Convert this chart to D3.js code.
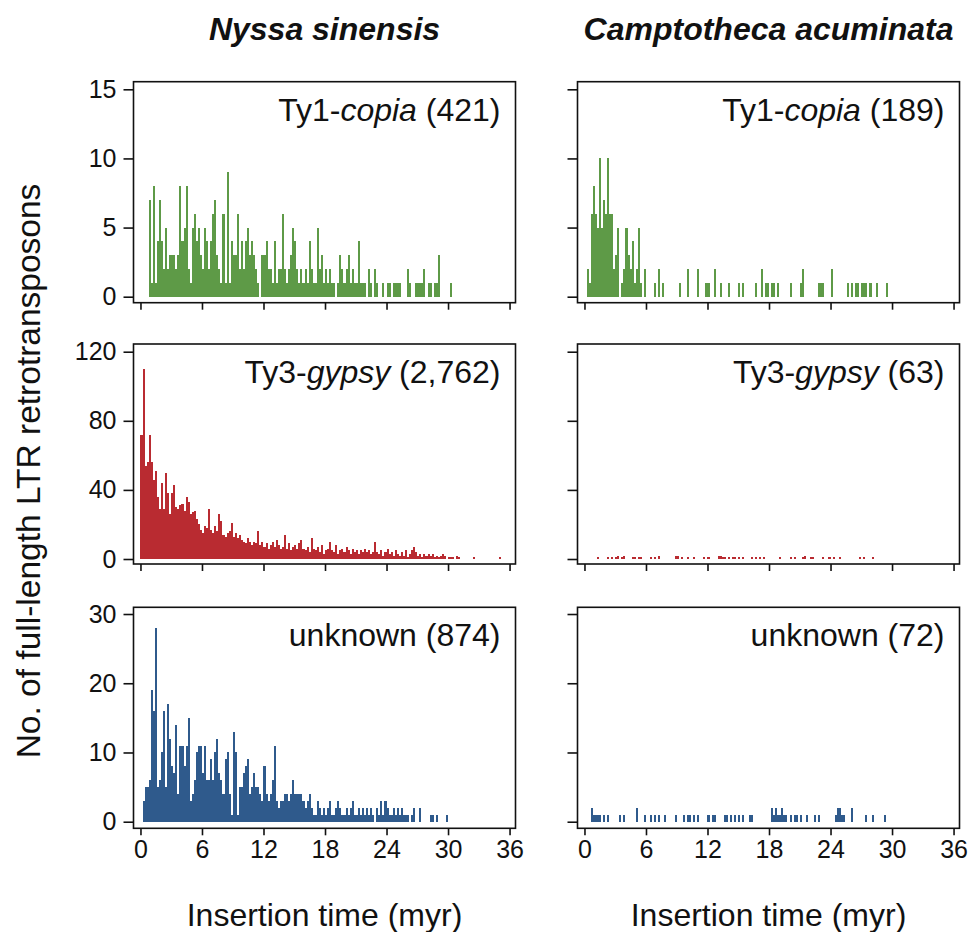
<!DOCTYPE html>
<html><head><meta charset="utf-8">
<script src="https://cdn.jsdelivr.net/npm/d3@7"></script>
<style>body{margin:0;background:#fff;} text{font-family:"Liberation Sans",Arial,Helvetica,sans-serif;fill:#111;}</style>
</head><body><svg id="c" width="970" height="932"></svg>
<script>
// ---------- data ----------
const BIN = 0.2; // myr per bin; arrays below are counts per bin starting at 0 myr
const speciesNames = ["Nyssa sinensis", "Camptotheca acuminata"];
const typePrefix = ["Ty1-", "Ty3-", "unknown"];
const typeItalic = ["copia", "gypsy", ""];
const totalsNyssa = ["421", "2,762", "874"];
const totalsCampto = ["189", "63", "72"];
const xTicks = [0, 6, 12, 18, 24, 30, 36];
const yTicksCopia = [0, 5, 10, 15];
const yTicksGypsy = [0, 40, 80, 120];
const yTicksUnknown = [0, 10, 20, 30];
const xTitle = "Insertion time (myr)";
const yTitle = "No. of full-length LTR retrotransposons";

const nyssaCopia = [0,0,0,0,7,1,8,1,4,7, 4,2,5,2,3,3,3,2,3,8, 4,5,8,2,1,5,6,4,5,3,
  2,5,4,2,4,6,7,3,2,1, 6,1,9,1,4,3,3,6,2,4, 2,4,5,3,4,3,2,1,0,3,
  3,4,2,2,1,4,1,2,2,6, 2,1,2,3,5,4,2,1,2,1, 2,1,4,2,1,1,5,2,3,1,
  2,1,2,1,1,0,1,3,2,1, 2,3,1,2,1,1,4,1,1,1, 0,2,1,0,2,1,0,0,1,0,
  1,1,0,1,1,1,1,0,0,0, 2,1,0,0,1,1,1,1,2,0, 1,1,0,1,1,3,0,0,0,0, 0,1];
const nyssaGypsy = [72,110,54,56,72,56,46,51,36,29, 44,29,50,38,26,38,43,30,29,31,
  32,28,36,33,26,27,28,23,20,17, 15,19,18,29,17,15,19,16,26,22,
  14,13,15,16,21,13,15,12,14,11, 10,9,12,10,8,10,9,16,8,10,
  7,9,6,8,10,7,11,8,6,7, 14,6,9,5,7,8,6,9,11,6, 5,7,4,12,6,5,7,4,8,3,
  5,6,10,5,4,8,3,5,6,4, 7,5,3,6,4,5,3,5,4,6, 4,5,3,4,10,4,3,5,2,4,
  6,3,4,2,5,3,2,4,2,5, 1,3,5,7,4,2,3,1,3,2, 3,2,3,1,2,1,2,3,2,0,
  1,1,1,0,2,1,0,0,0,0, 0,0,1,0,0,0,0,0,0,0, 0,0,0,0,0,1];
const nyssaUnknown = [0,3,5,5,6,19,16,28,5,6, 10,16,5,17,12,8,7,14,4,11,
  11,8,11,15,3,4,6,10,11,11, 7,11,6,6,9,6,10,12,7,6, 4,9,10,4,1,13,10,1,5,5,
  7,8,9,4,5,7,5,5,4,3, 8,4,3,4,6,11,3,2,3,3, 4,4,3,4,6,4,4,4,4,3,
  2,3,4,2,1,1,3,2,1,2, 1,2,3,1,1,2,3,2,1,1, 2,1,2,3,1,1,2,1,2,1,
  2,1,2,1,0,2,1,3,1,3, 2,1,1,2,1,2,1,2,1,1, 1,0,1,2,0,0,2,0,0,0,
  0,1,1,0,1,0,0,0,0,1];
const camptoCopia = [0,2,1,6,8,6,5,10,5,7, 6,10,6,6,2,3,5,0,1,2, 5,3,2,4,1,2,5,1,0,2,
  0,0,0,0,1,0,2,0,1,0, 0,0,0,0,0,0,1,0,0,0, 2,0,0,0,0,2,0,0,0,1,
  1,0,0,2,0,0,1,0,0,0, 1,0,0,0,0,1,0,1,0,0, 0,0,0,1,0,0,2,0,1,1,
  0,1,1,0,1,0,0,0,0,0, 1,0,0,0,0,1,2,0,0,0, 0,0,0,0,1,1,1,0,0,0,
  2,0,0,0,0,0,0,0,1,0, 1,0,1,1,0,1,1,1,0,1, 0,0,1,0,0,0,0,1];
const camptoGypsy = [0,0,0,0,0,0,1,0,0,0, 0,1,0,1,0,1,2,0,1,2, 0,0,0,1,1,0,1,1,0,0,
  0,0,1,0,1,0,2,0,0,0, 0,0,0,0,2,2,0,1,0,0, 1,0,0,1,0,0,0,0,1,0,
  1,0,0,0,0,2,2,1,1,0, 1,0,1,1,0,1,0,1,0,0, 0,1,0,1,0,1,0,1,0,0,
  0,0,0,0,0,1,0,0,0,0, 1,0,1,0,0,0,1,2,0,0, 1,1,0,0,0,0,1,0,0,1,
  0,1,0,0,1,0,0,0,0,0, 0,0,0,0,1,0,1,0,0,0,1];
const camptoUnknown = [0,0,0,2,1,1,1,1,0,1, 0,1,0,0,0,0,0,1,0,1, 0,0,0,0,0,2,0,0,0,1,
  0,0,1,0,1,0,1,0,0,1, 0,0,0,0,1,0,0,0,1,0, 1,1,0,1,0,1,0,0,0,0,
  1,0,1,1,0,0,0,0,1,1, 0,1,0,1,0,1,0,1,0,0, 1,1,0,0,0,0,0,0,0,0,
  0,2,1,2,1,1,2,1,1,0, 1,0,1,1,0,1,0,0,1,0, 0,0,1,0,1,0,0,0,0,0,
  0,0,1,2,2,1,1,0,0,0, 2,0,0,0,0,0,0,1,0,0, 1,0,0,0,0,0,1];

const colours = ["#5e9a47", "#b92b31", "#2f5a8c"];

// ---------- layout ----------
const svg = d3.select("#c");
const colLeft = [133.5, 577.5];
const panelW = 382;
const rowTop = [81.7, 344, 607.3];
const rowBottom = [302.7, 564, 828.3];
const yDomains = [[-0.434, 15.55], [-2.89, 124.46], [-0.95, 30.97]];
const yTicksByRow = [yTicksCopia, yTicksGypsy, yTicksUnknown];
const dataGrid = [[nyssaCopia, camptoCopia], [nyssaGypsy, camptoGypsy], [nyssaUnknown, camptoUnknown]];
const totalsGrid = [totalsNyssa, totalsCampto];
const FONT = '"Liberation Sans",Arial,sans-serif';

for (let c = 0; c < 2; c++) {
  const x = d3.scaleLinear().domain([-0.68, 36.58]).range([colLeft[c], colLeft[c] + panelW]);
  svg.append("text").attr("x", colLeft[c] + panelW / 2).attr("y", 40)
    .attr("text-anchor", "middle").style("font-size", "32px")
    .style("font-weight", "bold").style("font-style", "italic").text(speciesNames[c]);

  for (let r = 0; r < 3; r++) {
    const y = d3.scaleLinear().domain(yDomains[r]).range([rowBottom[r], rowTop[r]]);
    const g = svg.append("g");
    const vals = dataGrid[r][c].map((v, i) => ({t: i * BIN, v})).filter(d => d.v > 0);
    const bw = (x(BIN) - x(0));
    g.selectAll("rect.bar").data(vals).join("rect").attr("class", "bar")
      .attr("x", d => x(d.t)).attr("width", bw)
      .attr("y", d => y(d.v)).attr("height", d => y(0) - y(d.v))
      .attr("fill", colours[r]).attr("shape-rendering", "crispEdges");

    g.append("rect").attr("x", colLeft[c]).attr("y", rowTop[r])
      .attr("width", panelW).attr("height", rowBottom[r] - rowTop[r])
      .attr("fill", "none").attr("stroke", "#111").attr("stroke-width", 1.6);

    const ya = d3.axisLeft(y).tickValues(yTicksByRow[r]).tickSize(10).tickPadding(7);
    if (c === 1) ya.tickFormat("");
    const yg = g.append("g").attr("transform", `translate(${colLeft[c]},0)`).call(ya);
    yg.select(".domain").remove();
    yg.selectAll("line").attr("stroke", "#111").attr("stroke-width", 1.6);
    yg.selectAll("text").style("font-size", "25px").attr("fill", "#111").style("font-family", FONT);

    const xa = d3.axisBottom(x).tickValues(xTicks).tickSize(7).tickPadding(5);
    if (r !== 2) xa.tickFormat("");
    const xg = g.append("g").attr("transform", `translate(0,${rowBottom[r]})`).call(xa);
    xg.select(".domain").remove();
    xg.selectAll("line").attr("stroke", "#111").attr("stroke-width", 1.6);
    xg.selectAll("text").style("font-size", "25px").attr("fill", "#111").style("font-family", FONT);

    const lab = g.append("text").attr("x", colLeft[c] + panelW - 15).attr("y", rowTop[r] + 39)
      .attr("text-anchor", "end").style("font-size", "32px");
    lab.append("tspan").text(typePrefix[r]);
    if (typeItalic[r]) lab.append("tspan").style("font-style", "italic").text(typeItalic[r]);
    lab.append("tspan").text(" (" + totalsGrid[c][r] + ")");
  }
  svg.append("text").attr("x", colLeft[c] + panelW / 2).attr("y", 926)
    .attr("text-anchor", "middle").style("font-size", "32px").text(xTitle);
}
svg.append("text").attr("transform", "translate(40,471) rotate(-90)")
  .attr("text-anchor", "middle").style("font-size", "33.5px").text(yTitle);
</script></body></html>
